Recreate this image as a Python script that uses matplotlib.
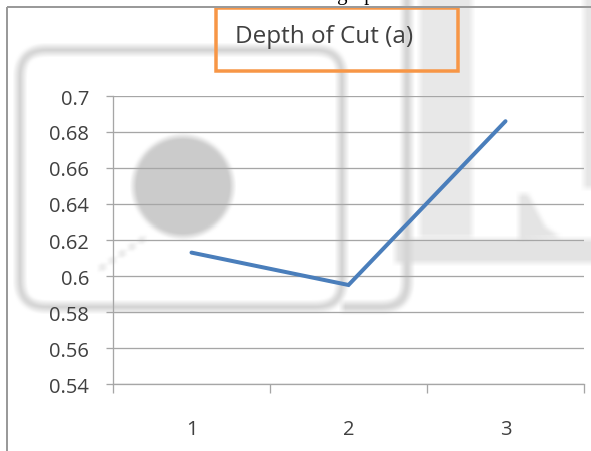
import numpy as np
import matplotlib
matplotlib.use("Agg")
import matplotlib.pyplot as plt
from matplotlib.patches import FancyBboxPatch, Circle, Rectangle, PathPatch, Polygon
from matplotlib.path import Path

W, H, DPI = 591, 452, 100

categories = ["1", "2", "3"]
depth_of_cut = [0.613, 0.595, 0.686]
y_ticks = [0.54, 0.56, 0.58, 0.60, 0.62, 0.64, 0.66, 0.68, 0.70]
y_tick_labels = ["0.54", "0.56", "0.58", "0.6", "0.62", "0.64", "0.66", "0.68", "0.7"]
chart_title = "Depth of Cut (a)"
caption = "Effect of Cutting Speed"

FONT = "Open Sans"
TEXT = "#404040"
GRID = "#a6a6a6"
LINE = "#4a7ebb"
ORANGE = "#f79646"


def px(v):
    """Pixel width to points."""
    return v * 72.0 / DPI


def box_blur(img, r):
    out = img.astype(float)
    k = 2 * r + 1
    p = np.pad(out, [(r, r), (0, 0), (0, 0)], mode="edge")
    out = sum(p[i:i + out.shape[0]] for i in range(k)) / k
    p = np.pad(out, [(0, 0), (r, r), (0, 0)], mode="edge")
    out = sum(p[:, i:i + out.shape[1]] for i in range(k)) / k
    return out


def backdrop():
    """Soft grey shapes lying behind the chart."""
    f = plt.figure(figsize=(W / DPI, H / DPI), dpi=DPI)
    f.patch.set_facecolor("white")
    a = f.add_axes([0, 0, 1, 1])
    a.set_xlim(0, W)
    a.set_ylim(H, 0)
    a.axis("off")
    grey = "#d6d6d6"
    a.add_patch(Rectangle((420, -5), 52, 243, color="#e8e8e8", lw=0))
    a.add_patch(Rectangle((395, 240), 200, 24, color="#e3e3e3", lw=0))
    a.add_patch(Rectangle((584, -5), 12, 195, color="#e6e6e6", lw=0))
    a.add_patch(Polygon([(519, 196), (528, 196), (545, 228), (560, 238),
                         (519, 240)], closed=True, color="#e4e4e4", lw=0))
    a.add_patch(FancyBboxPatch((20, 52), 322, 256,
                               boxstyle="round,pad=0,rounding_size=26",
                               fill=False, ec=grey, lw=px(8)))
    verts = [(407, -10), (407, 283), (407, 308), (382, 308), (342, 308)]
    codes = [Path.MOVETO, Path.LINETO, Path.CURVE3, Path.CURVE3, Path.LINETO]
    a.add_patch(PathPatch(Path(verts, codes), fill=False, ec=grey, lw=px(9)))
    a.add_patch(Circle((183, 188), 50, color="#cccccc", lw=0))
    a.plot([100, 146], [270, 238], color="#cdcdcd", lw=px(3), ls=(0, (2, 2)))
    f.canvas.draw()
    img = np.asarray(f.canvas.buffer_rgba())[:, :, :3] / 255.0
    plt.close(f)
    return np.clip(box_blur(img, 3), 0, 1)


bg_img = backdrop()

fig = plt.figure(figsize=(W / DPI, H / DPI), dpi=DPI)
fig.patch.set_facecolor("white")

bg = fig.add_axes([0, 0, 1, 1], zorder=0)
bg.imshow(bg_img, extent=(0, W, H, 0), interpolation="nearest")
bg.set_xlim(0, W)
bg.set_ylim(H, 0)
bg.axis("off")

# outer frame
bg.plot([7, 7], [8, H + 2], color="#9a9a9a", lw=px(2), solid_capstyle="butt")
bg.plot([7, W + 2], [8, 8], color="#9a9a9a", lw=px(2), solid_capstyle="butt")

# caption of the page above the chart, cut by the frame edge
bg.text(305, 0, caption, family="Liberation Serif", fontsize=15,
        ha="center", va="baseline", color="black")

# title with its orange box
bg.add_patch(Rectangle((216, 9), 242, 63, fill=False, ec=ORANGE, lw=px(3.5)))
bg.text(324, 43, chart_title, family=FONT, fontsize=17.5, color=TEXT,
        ha="center", va="baseline")

ax = fig.add_axes([113 / W, (H - 385) / H, (584 - 113) / W, 288 / H], zorder=1)
ax.set_facecolor("none")

x = np.arange(1, len(categories) + 1)
ax.plot(x, depth_of_cut, color=LINE, lw=px(4), solid_capstyle="round",
        solid_joinstyle="miter", zorder=3)

ax.set_xlim(0.5, len(categories) + 0.5)
ax.set_ylim(y_ticks[0], y_ticks[-1])
ax.set_yticks(y_ticks, y_tick_labels)
ax.yaxis.grid(True, color=GRID, lw=px(1.3))
ax.set_axisbelow(True)

ax.set_xticks(np.arange(0.5, len(categories) + 1, 1.0))
ax.set_xticklabels([])
ax.set_xticks(x, categories, minor=True)

ax.tick_params(axis="x", which="major", length=px(9), width=px(1.3),
               color=GRID, direction="out")
ax.tick_params(axis="x", which="minor", length=0, pad=25,
               labelsize=14.5, labelcolor=TEXT)
ax.tick_params(axis="y", length=px(7), width=px(1.3), color=GRID,
               direction="out", pad=12, labelsize=14.5, labelcolor=TEXT)
for lab in ax.get_xticklabels(minor=True) + ax.get_yticklabels():
    lab.set_family(FONT)

for side in ("top", "right"):
    ax.spines[side].set_visible(False)
for side in ("left", "bottom"):
    ax.spines[side].set_color(GRID)
    ax.spines[side].set_linewidth(px(1.3))

fig.savefig("out.png", dpi=DPI)
